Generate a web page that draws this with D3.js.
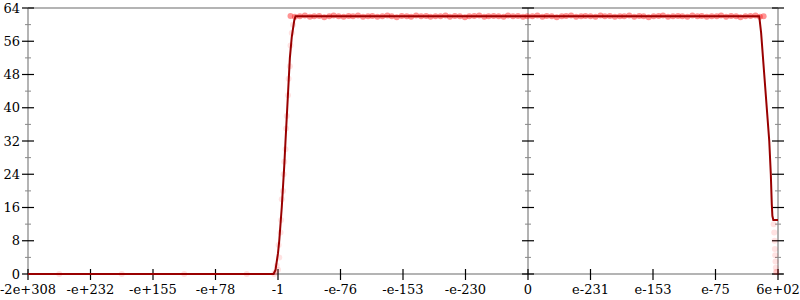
<!DOCTYPE html>
<html>
<head>
<meta charset="utf-8">
<script src="https://cdn.jsdelivr.net/npm/d3@7"></script>
<style>
  body { margin: 0; background: #fff; }
  text { font-family: "DejaVu Serif", serif; font-size: 13px; fill: #000; }
</style>
</head>
<body>
<div id="chart"></div>
<script>
// tick labels along the bit-ordered x axis (positions 0..12)
const xTickLabels = ["-2e+308", "-e+232", "-e+155", "-e+78", "-1", "-e-76", "-e-153",
  "-e-230", "0", "e-231", "e-153", "e-75", "6e+02"];
const yTickValues = [0, 8, 16, 24, 32, 40, 48, 56, 64];
const yMinorValues = [4, 12, 20, 28, 36, 44, 52, 60];

// main error line
const lineX = [0, 3.93, 3.96, 4.0, 4.02, 4.06, 4.10, 4.12, 4.155, 4.19, 4.22, 4.26, 4.28,
  11.70, 11.73, 11.78, 11.82, 11.86, 11.885, 11.90, 11.91, 11.925, 12.0];
const lineY = [0, 0, 1, 5, 8, 16, 26, 32, 42, 52, 57, 61, 62,
  62, 58, 48, 40, 32, 24, 17, 14, 13, 13];

// sampled points, plateau
const plateauX = [4.20, 4.27, 4.35, 4.43, 4.51, 4.58, 4.66, 4.74, 4.82, 4.89, 4.97, 5.05, 5.13,
  5.20, 5.28, 5.36, 5.44, 5.51, 5.59, 5.67, 5.75, 5.82, 5.90, 5.98, 6.06, 6.13, 6.21, 6.29,
  6.37, 6.44, 6.52, 6.60, 6.68, 6.75, 6.83, 6.91, 6.99, 7.06, 7.14, 7.22, 7.30, 7.37, 7.45,
  7.53, 7.61, 7.68, 7.76, 7.84, 7.92, 7.99, 8.07, 8.15, 8.23, 8.30, 8.38, 8.46, 8.54, 8.61,
  8.69, 8.77, 8.85, 8.92, 9.00, 9.08, 9.16, 9.23, 9.31, 9.39, 9.47, 9.54, 9.62, 9.70, 9.78,
  9.85, 9.93, 10.01, 10.09, 10.16, 10.24, 10.32, 10.40, 10.47, 10.55, 10.63, 10.71, 10.78,
  10.86, 10.94, 11.02, 11.09, 11.17, 11.25, 11.33, 11.40, 11.48, 11.56, 11.64, 11.71, 11.77];
const plateauY = [62.1, 61.9, 62.0, 62.2, 61.9, 62.0, 62.1, 61.8, 62.0, 62.2, 62.0, 61.9, 62.1,
  62.0, 62.2, 61.9, 62.0, 62.1, 61.9, 62.0, 62.2, 62.0, 61.8, 62.1, 62.0, 61.9, 62.2, 62.0,
  62.1, 61.9, 62.0, 62.0, 62.2, 61.9, 62.1, 62.0, 61.8, 62.0, 62.1, 62.2, 61.9, 62.0, 62.1,
  62.0, 61.9, 62.2, 62.0, 62.1, 61.9, 62.0, 62.0, 62.2, 61.9, 62.1, 62.0, 61.8, 62.0, 62.1,
  62.2, 61.9, 62.0, 62.1, 62.0, 61.9, 62.2, 62.0, 62.1, 61.9, 62.0, 62.0, 62.2, 61.9, 62.1,
  62.0, 61.8, 62.0, 62.1, 62.2, 61.9, 62.0, 62.1, 62.0, 61.9, 62.2, 62.0, 62.1, 61.9, 62.0,
  62.0, 62.2, 61.9, 62.1, 62.0, 61.8, 62.0, 62.1, 62.2, 61.9, 62.0];

// sampled points, rising and falling edges
const edgeX = [0.5, 1.5, 2.5, 3.5, 3.94, 3.96, 3.98, 4.0, 4.02, 4.01, 4.04, 4.05, 4.06, 4.08,
  4.09, 4.10, 4.12, 4.13, 4.14, 4.16, 4.17, 4.19, 4.20, 4.22, 4.24,
  11.93, 11.94, 11.945, 11.95, 11.955, 11.96, 11.965, 11.97, 11.975];
const edgeY = [0, 0, 0, 0, 0, 0.5, 2, 1, 4, 7, 10, 13, 18, 20,
  24, 27, 30, 35, 38, 43, 47, 50, 55, 58, 60,
  12, 10, 8, 6, 4.5, 3, 1.5, 0.5, 0.5];

const margin = { top: 8, right: 22, bottom: 26, left: 28 },
  width = 800 - margin.left - margin.right,
  height = 300 - margin.top - margin.bottom;

const svg = d3.select("#chart")
  .append("svg")
  .attr("width", 800)
  .attr("height", 300)
  .append("g")
  .attr("transform", `translate(${margin.left},${margin.top})`);

const x = d3.scaleLinear().domain([0, 12]).range([0, width]);
const y = d3.scaleLinear().domain([0, 64]).range([height, 0]);

// frame
svg.append("line").attr("x1", 0).attr("x2", width).attr("y1", 0).attr("y2", 0)
  .attr("stroke", "#b4b4b4").attr("stroke-width", 2);
svg.append("line").attr("x1", 0).attr("x2", width + 5).attr("y1", height).attr("y2", height)
  .attr("stroke", "#b4b4b4").attr("stroke-width", 2);

// vertical axes at left, zero and right
const vAxes = [
  { pos: 0, color: "#b4b4b4", w: 2 },
  { pos: 8, color: "#666", w: 1 },
  { pos: 12, color: "#b4b4b4", w: 2 }
];
vAxes.forEach(a => {
  const g = svg.append("g").attr("transform", `translate(${x(a.pos)},0)`);
  g.append("line").attr("y1", 0).attr("y2", height)
    .attr("stroke", a.color).attr("stroke-width", a.w);
  g.selectAll(".major").data(yTickValues).enter().append("line")
    .attr("x1", -6).attr("x2", 6)
    .attr("y1", d => y(d)).attr("y2", d => y(d))
    .attr("stroke", "#000").attr("stroke-width", 1.2);
  g.selectAll(".minor").data(yMinorValues).enter().append("line")
    .attr("x1", -3).attr("x2", 3)
    .attr("y1", d => y(d)).attr("y2", d => y(d))
    .attr("stroke", "#888").attr("stroke-width", 1);
});

// y labels
svg.selectAll(".ylab").data(yTickValues).enter().append("text")
  .attr("x", -8).attr("y", d => y(d)).attr("dy", "0.35em")
  .attr("text-anchor", "end")
  .text(d => d);

// x ticks + labels
svg.selectAll(".xtick").data(xTickLabels).enter().append("line")
  .attr("x1", (d, i) => x(i)).attr("x2", (d, i) => x(i))
  .attr("y1", height - 5).attr("y2", height + 6)
  .attr("stroke", "#000").attr("stroke-width", 1.2);
svg.selectAll(".xlab").data(xTickLabels).enter().append("text")
  .attr("x", (d, i) => x(i)).attr("y", height + 20)
  .attr("text-anchor", "middle")
  .text(d => d);

// sampled points
const samples = plateauX.map((d, i) => [d, plateauY[i]])
  .concat(edgeX.map((d, i) => [d, edgeY[i]]));
svg.selectAll(".pt").data(samples).enter().append("circle")
  .attr("cx", d => x(d[0])).attr("cy", d => y(d[1]))
  .attr("r", 3)
  .attr("fill", "#ff1010")
  .attr("fill-opacity", (d, i) => i < plateauX.length ? 0.45 : 0.12);

// main line
const line = d3.line().x(d => x(d[0])).y(d => y(d[1]));
svg.append("path")
  .datum(lineX.map((d, i) => [d, lineY[i]]))
  .attr("fill", "none")
  .attr("stroke", "#990000")
  .attr("stroke-width", 2)
  .attr("d", line);
</script>
</body>
</html>
